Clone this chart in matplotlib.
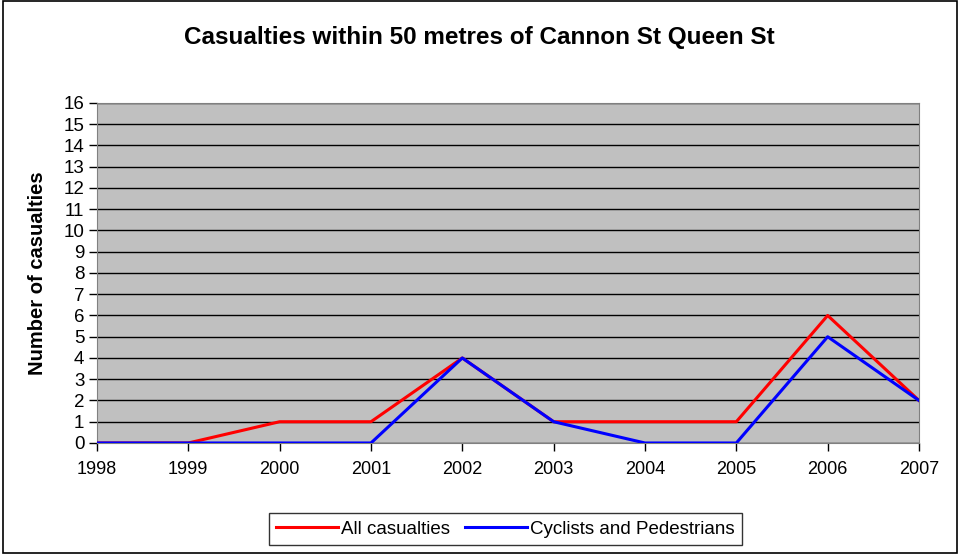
import matplotlib
matplotlib.use("Agg")
import matplotlib.pyplot as plt
from matplotlib.patches import Rectangle

years = [1998, 1999, 2000, 2001, 2002, 2003, 2004, 2005, 2006, 2007]
all_casualties = [0, 0, 1, 1, 4, 1, 1, 1, 6, 2]
cyclists_pedestrians = [0, 0, 0, 0, 4, 1, 0, 0, 5, 2]
y_ticks = list(range(0, 17))

plt.rcParams['font.family'] = ['Liberation Sans', 'DejaVu Sans']

fig = plt.figure(figsize=(9.59, 5.54), dpi=100)
ax = fig.add_axes([0.1011, 0.2004, 0.8572, 0.6137])
ax.set_facecolor('#c0c0c0')

ax.plot(years, all_casualties, color='#ff0000', lw=2.2, label='All casualties', zorder=3)
ax.plot(years, cyclists_pedestrians, color='#0000ff', lw=2.2, label='Cyclists and Pedestrians', zorder=4)

ax.set_xlim(years[0], years[-1])
ax.set_ylim(0, 16)
ax.set_xticks(years)
ax.set_yticks(y_ticks)
ax.tick_params(axis='y', labelsize=13.5, length=6, width=1, color='#000000', direction='out', pad=3)
ax.tick_params(axis='x', labelsize=13, length=6, width=1, color='#000000', direction='out', pad=7)
ax.grid(axis='y', color='#000000', lw=1)
ax.set_axisbelow(True)
for s in ['top', 'right', 'left', 'bottom']:
    ax.spines[s].set_color('#808080')

ax.set_ylabel('Number of casualties', fontsize=14.5, fontweight='bold', labelpad=12)
fig.text(0.5, 0.933, 'Casualties within 50 metres of Cannon St Queen St', ha='center', va='center',
         fontsize=17.5, fontweight='bold')

leg = fig.legend(loc='center', bbox_to_anchor=(0.527, 0.045), ncol=2, fontsize=13.5,
                 frameon=True, fancybox=False, edgecolor='#000000', handlelength=3.3,
                 handletextpad=0.15, columnspacing=0.8, borderpad=0.4)
leg.get_frame().set_linewidth(1)

fig.patches.append(Rectangle((0.003, 0.002), 0.995, 0.996, transform=fig.transFigure,
                             fill=False, edgecolor='#000000', lw=1.2))

fig.savefig('out.png', dpi=100)
